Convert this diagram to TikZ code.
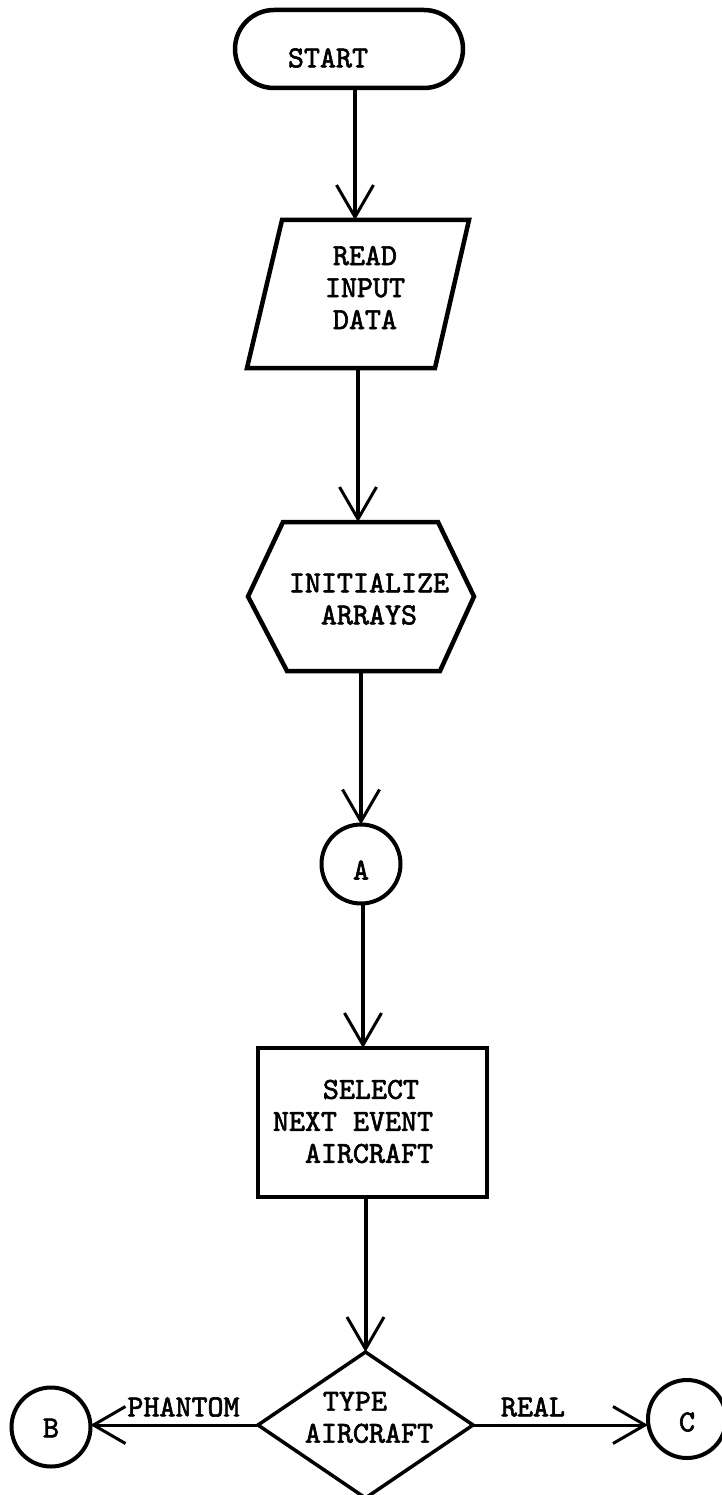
\documentclass[tikz,border=0pt]{standalone}
\usepackage{fontspec}
\setmonofont{lmmono10-regular.otf}[FakeBold=2]
\usetikzlibrary{arrows.meta,shapes.geometric}
\newcommand\twfont{\fontsize{30.5pt}{32pt}\selectfont\ttfamily}
\begin{document}
\begin{tikzpicture}[x=1pt,y=-1pt,
  shp/.style={draw=black, line width=4pt, outer sep=0pt, inner sep=0pt},
  box/.style={outer sep=0pt, inner sep=0pt, draw=none},
  con/.style={line width=4pt, -{Straight Barb[length=32pt,width=37pt,line width=3pt]}},
  hcon/.style={con, line width=3pt},
  txt/.style={font=\twfont, inner sep=0pt, align=center},
  lefttxt/.style={txt, align=left}]
\useasboundingbox (0,0) rectangle (721,1495);
\fill[white] (0,0) rectangle (721,1495);

% shapes
\node[shp, rectangle, rounded corners=39pt, line width=4.5pt, minimum width=228pt, minimum height=78pt] (start) at (349,49) {};

\node[box, minimum width=222pt, minimum height=148pt] (read) at (358,294) {};
\draw[line width=4.5pt] ([xshift=35pt]read.north west) -- (read.north east) -- ([xshift=-34pt]read.south east) -- (read.south west) -- cycle;

\node[box, minimum width=226pt, minimum height=149pt] (init) at (361,596.5) {};
\draw[line width=4.5pt] ([xshift=35pt]init.north west) -- ([xshift=-36pt]init.north east) -- (init.east) -- ([xshift=-34pt]init.south east) -- ([xshift=39pt]init.south west) -- (init.west) -- cycle;

\node[shp, circle, minimum size=79pt] (A) at (361,864) {};
\node[shp, rectangle, minimum width=229pt, minimum height=149pt] (sel) at (372.5,1122.5) {};
\node[shp, diamond, line width=3.5pt, minimum width=215pt, minimum height=146pt] (type) at (365.5,1425) {};
\node[shp, circle, minimum size=79pt] (B) at (51,1427) {};
\node[shp, circle, minimum size=78pt] (C) at (687,1419) {};

% texts
\node[txt] (startT) at (328,58) {START};
\node[txt] (readT) at (365,287.5) {READ\\INPUT\\DATA};
\node[txt] (initT) at (369,599) {INITIALIZE\\ARRAYS};
\node[txt] (AT) at (361,870) {A};
\node[lefttxt] (selT) at (353,1121.5) {\hspace*{50pt}SELECT\\NEXT EVENT\\\hspace*{32pt}AIRCRAFT};
\node[lefttxt] (typeT) at (369,1417.5) {\hspace*{18pt}TYPE\\AIRCRAFT};
\node[txt] (BT) at (51,1428) {B};
\node[txt] (CT) at (687,1422) {C};
\node[txt] (phantomT) at (183.5,1407) {PHANTOM};
\node[txt] (realT) at (533,1407) {REAL};

% connectors
\draw[con] ([xshift=6pt]start.south) -- ([xshift=-3pt]read.north);
\draw[con] (read.south) -- ([xshift=-3pt]init.north);
\draw[con] (init.south) -- (A.north);
\draw[con] ([xshift=2pt]A.south) -- ([xshift=-9.5pt]sel.north);
\draw[con] ([xshift=-7pt]sel.south) -- (type.north);
\draw[hcon] (type.west) -- (type.west -| B.east);
\draw[hcon] (type.east) -- (type.east -| C.west);
\end{tikzpicture}
\end{document}
